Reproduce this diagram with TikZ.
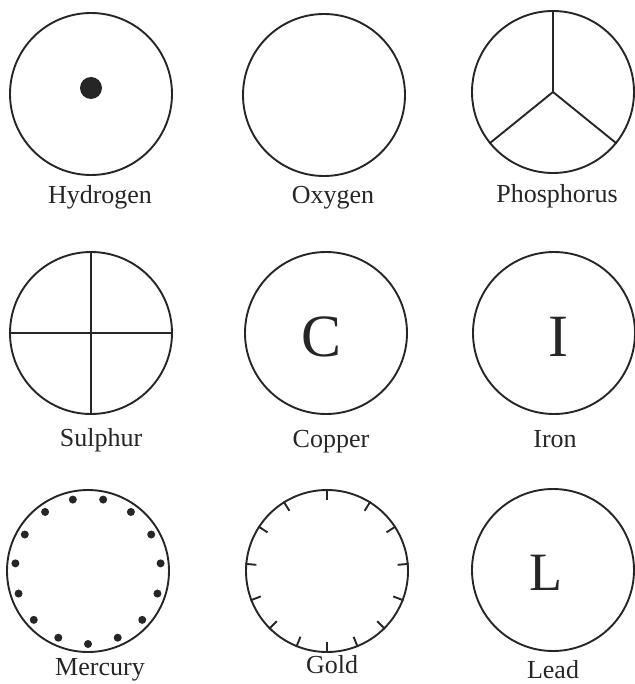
\documentclass[tikz,border=0pt]{standalone}
\usepackage{fontspec}
\setmainfont{Liberation Serif}
\usetikzlibrary{positioning}

\begin{document}
\begin{tikzpicture}[x=0.5pt, y=-0.5pt, line width=0.95pt, color=black!85,
    elem/.style={draw, circle, minimum size=81pt, inner sep=0pt},
    lbl/.style={anchor=base, font=\fontsize{13}{15}\selectfont, inner sep=0pt},
    sym/.style={font=\fontsize{30}{34}\selectfont, inner sep=0pt}]
      \useasboundingbox (0,0) rectangle (634,684);
      % row 1
      \node[elem] (hyd) at (91,94) {};
      \node[elem] (oxy) at (324,95) {};
      \node[elem] (pho) at (553,92) {};
      \fill ([yshift=3pt]hyd.center) circle[radius=5.5pt];
      \draw (pho.center) -- (pho.90);
      \draw (pho.center) -- (pho.219);
      \draw (pho.center) -- (pho.321);
      \node[lbl] (hydl) at (100,204) {Hydrogen};
      \node[lbl] (oxyl) at (333,204) {Oxygen};
      \node[lbl] (phol) at (557,203) {Phosphorus};
      % row 2
      \node[elem] (sul) at (91,333) {};
      \node[elem] (cop) at (326,333) {};
      \node[elem] (iro) at (554,333) {};
      \draw (sul.north) -- (sul.south);
      \draw (sul.west) -- (sul.east);
      \node[sym] (copc) at (322,337) {C};
      \node[sym] (iroi) at (558,337) {I};
      \node[lbl] (sull) at (101,446) {Sulphur};
      \node[lbl] (copl) at (331,447) {Copper};
      \node[lbl] (irol) at (555,447) {Iron};
      % row 3
      \node[elem] (mer) at (88,571) {};
      \node[elem] (gol) at (327,571) {};
      \node[elem] (lea) at (553,570) {};
      \foreach \a in {0,...,14}
        \fill ([shift={({-90+24*\a}:36.5pt)}]mer.center) circle[radius=2pt];
      \foreach \a in {90,58,33,5,-21,-45,-68,-90,248,225,201,175,147,122}
        \draw (gol.\a) -- ([shift={({\a+180}:5.5pt)}]gol.\a);
      \node[sym, font=\fontsize{27}{30}\selectfont] (leal) at (546,573) {L};
      \node[lbl] (merl) at (100,675) {Mercury};
      \node[lbl] (goll) at (332,673) {Gold};
      \node[lbl] (leall) at (553,678) {Lead};
    \end{tikzpicture}
\end{document}
